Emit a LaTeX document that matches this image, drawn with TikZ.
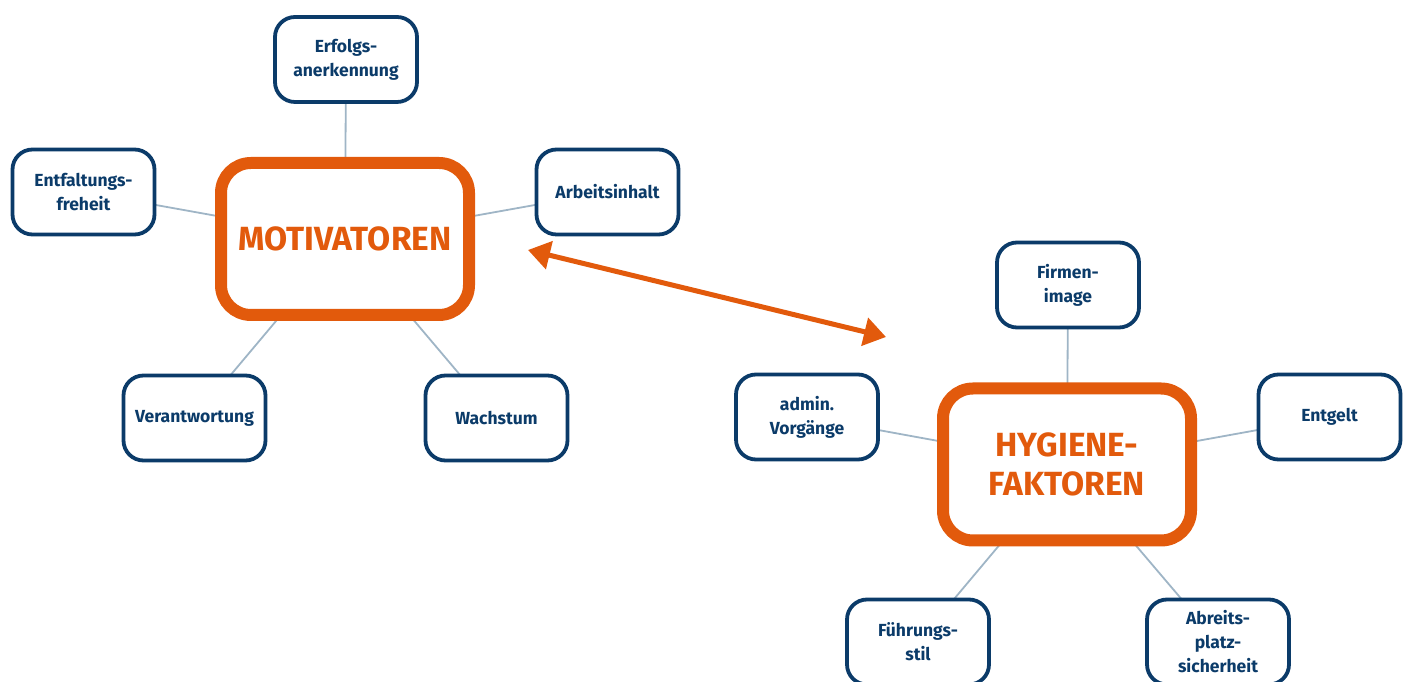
\documentclass[tikz,border=0pt]{standalone}
\usepackage{fontspec}
\setmainfont{Fira Sans}
\usetikzlibrary{arrows.meta,backgrounds}
\definecolor{navy}{HTML}{0B3B69}
\definecolor{orng}{HTML}{E25A0C}
\definecolor{conn}{HTML}{9FB5C6}
\tikzset{
  leaf/.style={draw=navy, line width=3.8pt, rounded corners=20pt, fill=white,
    minimum width=142pt, minimum height=85pt, align=center, text=navy,
    font=\fontsize{17.5}{24}\selectfont\bfseries, inner sep=0pt},
  hub/.style={draw=orng, line width=12pt, rounded corners=30pt, fill=white,
    minimum width=248pt, minimum height=152pt, align=center, text=orng,
    font=\fontsize{33.5}{39}\selectfont\bfseries, inner sep=0pt},
  link/.style={draw=conn, line width=1.8pt},
  twoway/.style={draw=orng, line width=5pt,
    {Triangle[length=22pt,width=28pt]}-{Triangle[length=22pt,width=28pt]}}
}
\begin{document}
\begin{tikzpicture}[x=1pt,y=1pt]
\useasboundingbox (0,0) rectangle (1408,682);
\clip (0,0) rectangle (1408,682);
% hubs
\node[hub] (mot) at (345,443) {MOTIVATOREN};
\node[hub] (hyg) at (1067,217.5) {HYGIENE-\\FAKTOREN};
% leaves
\node[leaf] (erf) at (346,622.5) {Erfolgs-\\anerkennung};
\node[leaf] (ent) at (83.5,490) {Entfaltungs-\\freheit};
\node[leaf] (arb) at (607.5,490) {Arbeitsinhalt};
\node[leaf] (ver) at (194.5,264) {Verantwortung};
\node[leaf] (wac) at (496.5,264) {Wachstum};
\node[leaf] (fir) at (1068,397) {Firmen-\\image};
\node[leaf] (adm) at (807,265) {admin.\\Vorgänge};
\node[leaf] (entg) at (1329.5,265) {Entgelt};
\node[leaf] (fue) at (918,40) {Führungs-\\stil};
\node[leaf] (abr) at (1218,40) {Abreits-\\platz-\\sicherheit};
\begin{scope}[on background layer]
\foreach \n in {erf,ent,arb,ver,wac} \draw[link] (mot.center) -- (\n.center);
\foreach \n in {fir,adm,entg,fue,abr} \draw[link] (hyg.center) -- (\n.center);
\end{scope}
\coordinate (a1) at (528,432);
\coordinate (a2) at (886,345);
\draw[twoway] (a1) -- (a2);
\end{tikzpicture}
\end{document}
